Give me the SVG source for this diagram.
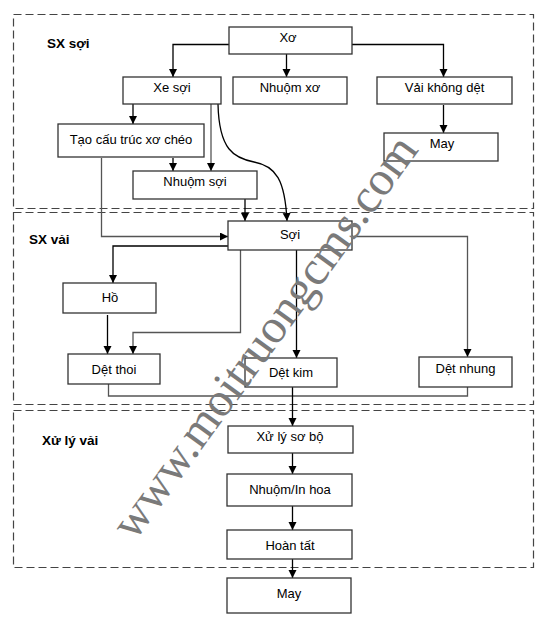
<svg xmlns="http://www.w3.org/2000/svg" width="549" height="632" viewBox="0 0 549 632">
<defs>
<marker id="ah" markerUnits="userSpaceOnUse" markerWidth="9" markerHeight="9" refX="8" refY="4" orient="auto">
<path d="M0,0 L8,4 L0,8 z" fill="#000"/>
</marker>
<style>
.bg{fill:#fff}
.grp{fill:none;stroke:#444;stroke-width:1.2;stroke-dasharray:8 4}
.box{fill:#fff;stroke:#333;stroke-width:1.3}
.lbl{font-family:"Liberation Sans",Arial,sans-serif;font-size:13px;fill:#000;text-anchor:middle}
.sec{font-family:"Liberation Sans",Arial,sans-serif;font-size:13.5px;font-weight:bold;fill:#000}
.c{fill:none;stroke:#000;stroke-width:1.3}
.g{fill:none;stroke:#555;stroke-width:1.3}
.wm{font-family:"Liberation Serif","Times New Roman",serif;font-size:48px;fill:#7a7a7a;text-anchor:middle}
</style>
</defs>
<rect class="bg" x="0" y="0" width="549" height="632"/>
<g id="sections">
<rect class="grp" x="13.5" y="14.5" width="520" height="194"/>
<rect class="grp" x="13.5" y="212.5" width="520" height="192"/>
<rect class="grp" x="13.5" y="410.5" width="520" height="157"/>
<text class="sec" x="47" y="48">SX sợi</text>
<text class="sec" x="29" y="244">SX vải</text>
<text class="sec" x="42" y="445">Xử lý vải</text>
</g>
<g id="connectors">
<path class="c" d="M229,44.5 H173 V77" marker-end="url(#ah)"/>
<path class="c" d="M286.5,54 V77" marker-end="url(#ah)"/>
<path class="c" d="M352,44.5 H443.5 V77" marker-end="url(#ah)"/>
<path class="c" d="M443.5,105 V133" marker-end="url(#ah)"/>
<path class="c" d="M133,104 V124" marker-end="url(#ah)"/>
<path class="g" d="M211,104 V171" marker-end="url(#ah)"/>
<path class="c" d="M173,158 V171" marker-end="url(#ah)"/>
<path class="c" d="M218,104 C219,150 234,158 254,162 C276,166 285,180 287,221" marker-end="url(#ah)"/>
<path class="c" d="M245,199 V221" marker-end="url(#ah)"/>
<path class="g" d="M101.5,158 V236.5 H228" marker-end="url(#ah)"/>
<path class="c" d="M228,246 H113 V283" marker-end="url(#ah)"/>
<path class="c" d="M107.5,315 V354" marker-end="url(#ah)"/>
<path class="g" d="M240.5,250 V332.5 H133 V354" marker-end="url(#ah)"/>
<path class="c" d="M296.5,250 V358" marker-end="url(#ah)"/>
<path class="g" d="M352,236.5 H467.5 V357" marker-end="url(#ah)"/>
<path class="g" d="M108.5,384 V396 H467.5 V387"/>
<path class="c" d="M292.5,387 V426" marker-end="url(#ah)"/>
<path class="c" d="M292.5,453 V474" marker-end="url(#ah)"/>
<path class="c" d="M292.5,506 V530" marker-end="url(#ah)"/>
<path class="c" d="M292.5,559 V578" marker-end="url(#ah)"/>
</g>
<g id="n-xo"><rect class="box" x="229" y="27" width="123" height="27"/><text class="lbl" x="288" y="42">Xơ</text></g>
<g id="n-xesoi"><rect class="box" x="123" y="77" width="98" height="27"/><text class="lbl" x="172" y="92">Xe sợi</text></g>
<g id="n-nhuomxo"><rect class="box" x="233" y="77" width="114" height="27"/><text class="lbl" x="290" y="92">Nhuộm xơ</text></g>
<g id="n-vaikhongdet"><rect class="box" x="377" y="77" width="135" height="27"/><text class="lbl" x="444.5" y="92">Vải không dệt</text></g>
<g id="n-may1"><rect class="box" x="384" y="133" width="114" height="28"/><text class="lbl" x="442" y="148">May</text></g>
<g id="n-taocautruc"><rect class="box" x="58" y="124" width="146" height="33"/><text class="lbl" x="131" y="144">Tạo cấu trúc xơ chéo</text></g>
<g id="n-nhuomsoi"><rect class="box" x="133" y="171" width="124" height="28"/><text class="lbl" x="195" y="186">Nhuộm sợi</text></g>
<g id="n-soi"><rect class="box" x="228" y="221" width="124" height="29"/><text class="lbl" x="290" y="239">Sợi</text></g>
<g id="n-ho"><rect class="box" x="63" y="283" width="93" height="30"/><text class="lbl" x="110" y="302">Hồ</text></g>
<g id="n-detthoi"><rect class="box" x="68" y="354" width="92" height="30"/><text class="lbl" x="114" y="374">Dệt thoi</text></g>
<g id="n-detkim"><rect class="box" x="245" y="358" width="92" height="29"/><text class="lbl" x="291" y="377">Dệt kim</text></g>
<g id="n-detnhung"><rect class="box" x="419" y="357" width="93" height="30"/><text class="lbl" x="465.5" y="373">Dệt nhung</text></g>
<g id="n-xulysobo"><rect class="box" x="228" y="426" width="125" height="27"/><text class="lbl" x="290" y="441">Xử lý sơ bộ</text></g>
<g id="n-nhuomin"><rect class="box" x="227" y="474" width="125" height="32"/><text class="lbl" x="290" y="494">Nhuộm/In hoa</text></g>
<g id="n-hoantat"><rect class="box" x="227" y="530" width="125" height="29"/><text class="lbl" x="290" y="550">Hoàn tất</text></g>
<g id="n-may2"><rect class="box" x="227" y="578" width="124" height="35"/><text class="lbl" x="289" y="598">May</text></g>
<g id="watermark"><text class="wm" transform="translate(277,346) rotate(-54)">www.moitruongcms.com</text></g>
</svg>
